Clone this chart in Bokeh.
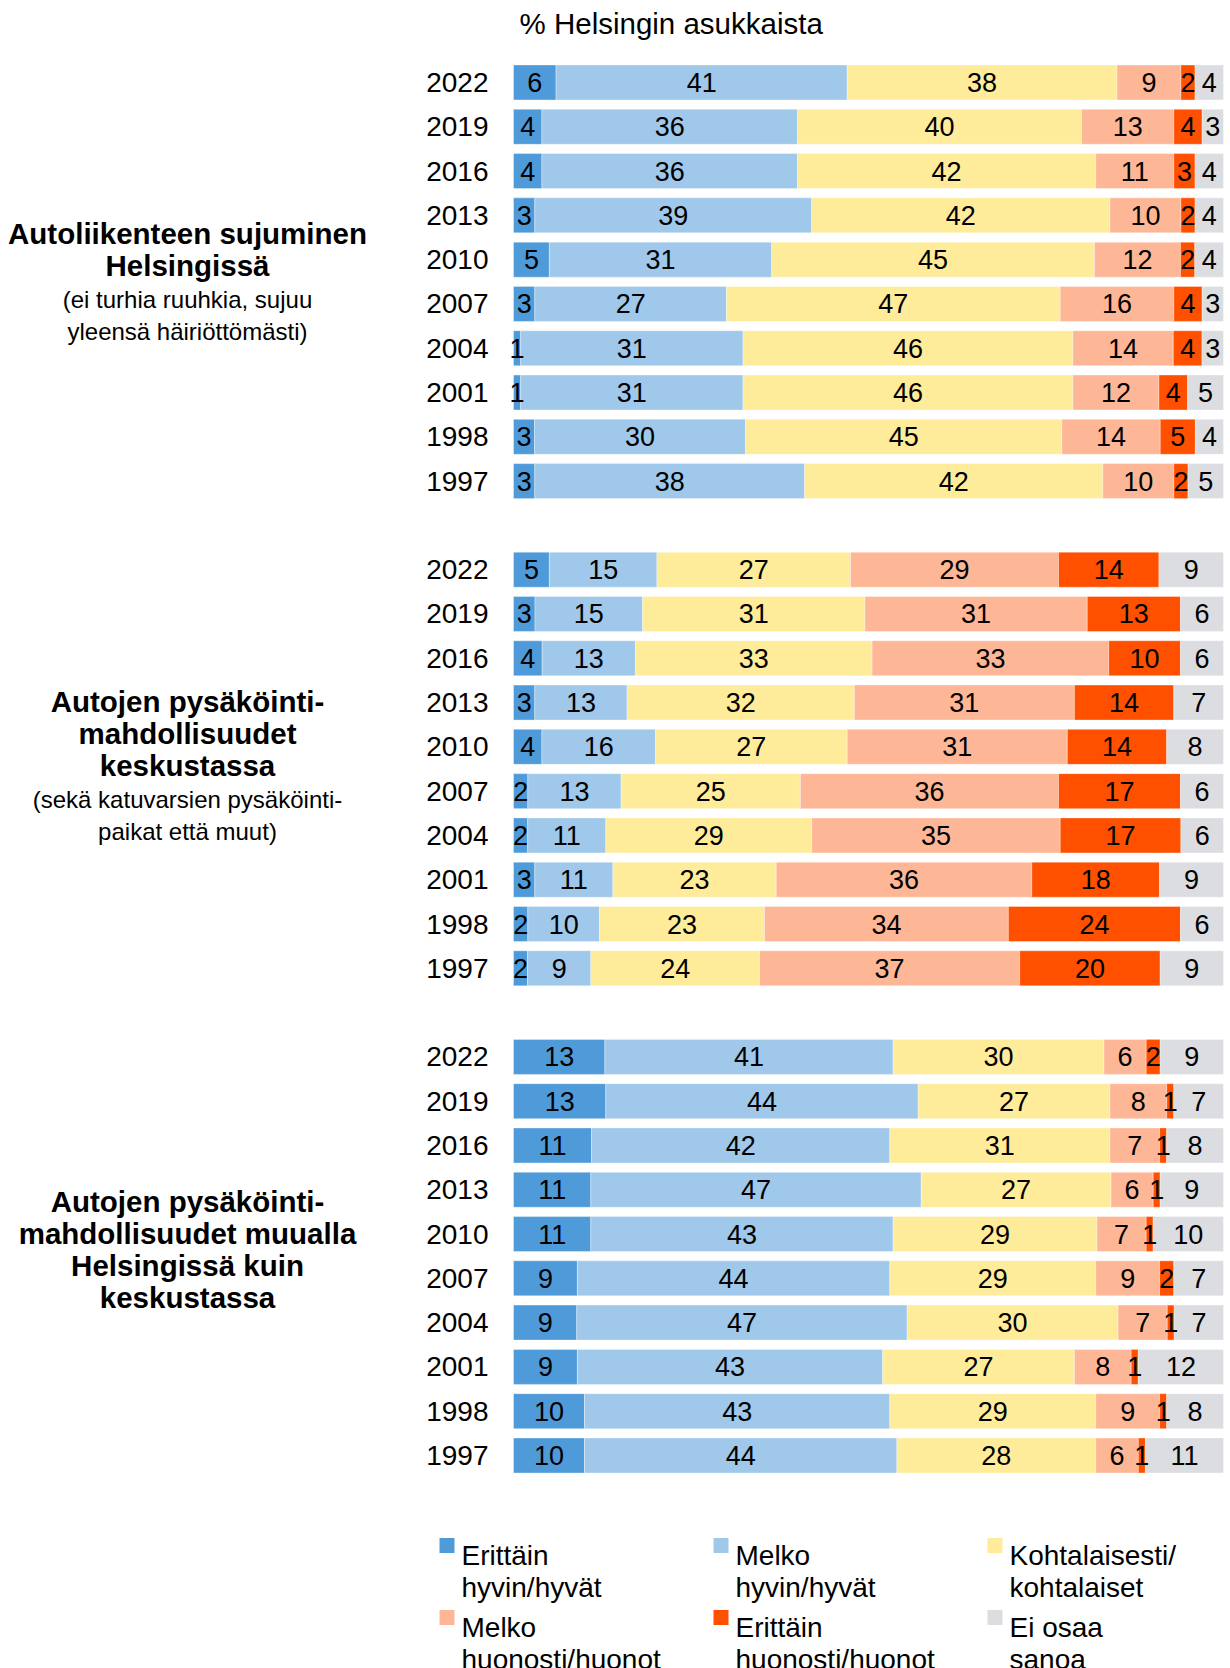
import numpy as np
from bokeh.plotting import figure
from bokeh.models import Range1d, Label, ColumnDataSource
from bokeh.core.properties import value
from bokeh.embed import file_html
from bokeh.resources import INLINE

# ---------------- data ----------------
years = ["2022", "2019", "2016", "2013", "2010", "2007", "2004", "2001", "1998", "1997"]

categories = ["Erittäin hyvin/hyvät", "Melko hyvin/hyvät", "Kohtalaisesti/kohtalaiset",
              "Melko huonosti/huonot", "Erittäin huonosti/huonot", "Ei osaa sanoa"]
legend_lines = [["Erittäin", "hyvin/hyvät"], ["Melko", "hyvin/hyvät"],
                ["Kohtalaisesti/", "kohtalaiset"], ["Melko", "huonosti/huonot"],
                ["Erittäin", "huonosti/huonot"], ["Ei osaa", "sanoa"]]
colors = ["#4F9BDA", "#9FC8EA", "#FEEC9A", "#FEB796", "#FF5000", "#DCDDE1"]

# Group 1: Autoliikenteen sujuminen Helsingissä
g1_erittain_hyvin = [6, 4, 4, 3, 5, 3, 1, 1, 3, 3]
g1_melko_hyvin = [41, 36, 36, 39, 31, 27, 31, 31, 30, 38]
g1_kohtalainen = [38, 40, 42, 42, 45, 47, 46, 46, 45, 42]
g1_melko_huono = [9, 13, 11, 10, 12, 16, 14, 12, 14, 10]
g1_erittain_huono = [2, 4, 3, 2, 2, 4, 4, 4, 5, 2]
g1_eos = [4, 3, 4, 4, 4, 3, 3, 5, 4, 5]

# Group 2: Autojen pysäköintimahdollisuudet keskustassa
g2_erittain_hyvin = [5, 3, 4, 3, 4, 2, 2, 3, 2, 2]
g2_melko_hyvin = [15, 15, 13, 13, 16, 13, 11, 11, 10, 9]
g2_kohtalainen = [27, 31, 33, 32, 27, 25, 29, 23, 23, 24]
g2_melko_huono = [29, 31, 33, 31, 31, 36, 35, 36, 34, 37]
g2_erittain_huono = [14, 13, 10, 14, 14, 17, 17, 18, 24, 20]
g2_eos = [9, 6, 6, 7, 8, 6, 6, 9, 6, 9]

# Group 3: Autojen pysäköintimahdollisuudet muualla Helsingissä kuin keskustassa
g3_erittain_hyvin = [13, 13, 11, 11, 11, 9, 9, 9, 10, 10]
g3_melko_hyvin = [41, 44, 42, 47, 43, 44, 47, 43, 43, 44]
g3_kohtalainen = [30, 27, 31, 27, 29, 29, 30, 27, 29, 28]
g3_melko_huono = [6, 8, 7, 6, 7, 9, 7, 8, 9, 6]
g3_erittain_huono = [2, 1, 1, 1, 1, 2, 1, 1, 1, 1]
g3_eos = [9, 7, 8, 9, 10, 7, 7, 12, 8, 11]

groups = [
    [g1_erittain_hyvin, g1_melko_hyvin, g1_kohtalainen, g1_melko_huono, g1_erittain_huono, g1_eos],
    [g2_erittain_hyvin, g2_melko_hyvin, g2_kohtalainen, g2_melko_huono, g2_erittain_huono, g2_eos],
    [g3_erittain_hyvin, g3_melko_hyvin, g3_kohtalainen, g3_melko_huono, g3_erittain_huono, g3_eos],
]
group_titles = [
    [("Autoliikenteen sujuminen", "bold"), ("Helsingissä", "bold"),
     ("(ei turhia ruuhkia, sujuu", "normal"), ("yleensä häiriöttömästi)", "normal")],
    [("Autojen pysäköinti-", "bold"), ("mahdollisuudet", "bold"), ("keskustassa", "bold"),
     ("(sekä katuvarsien pysäköinti-", "normal"), ("paikat että muut)", "normal")],
    [("Autojen pysäköinti-", "bold"), ("mahdollisuudet muualla", "bold"),
     ("Helsingissä kuin", "bold"), ("keskustassa", "bold")],
]
title_text = "% Helsingin asukkaista"

# ---------------- layout ----------------
W, H = 1230, 1668
X0_PX, XPU = 513.0, 7.10          # x pixel of 0 %, pixels per %
Y0_PX, YPU = 82.0, 44.29          # y pixel (from top) of first row, pixels per row
FONT_NAME = "Liberation Sans"
FONT = value(FONT_NAME)

def px_x(px):
    return (px - X0_PX) / XPU

def px_y(py):
    return (py - Y0_PX) / YPU

p = figure(width=W, height=H, output_backend="svg", toolbar_location=None,
           x_range=Range1d(px_x(0), px_x(W)), y_range=Range1d(px_y(H), px_y(0)),
           x_axis_location=None, y_axis_location=None, min_border=0,
           outline_line_color=None, background_fill_color="white")
p.grid.visible = False

ROWS_PER_GROUP = 11
bar_h = 35.0 / YPU

seg = {k: [] for k in ["y", "left", "right", "color", "label", "mid"]}
yl = {"y": [], "txt": []}
for gi, grp in enumerate(groups):
    for ri, yr in enumerate(years):
        yy = gi * ROWS_PER_GROUP + ri
        vals = [grp[c][ri] for c in range(len(categories))]
        tot = float(sum(vals))
        cum = 0.0
        for c, v in enumerate(vals):
            l = cum / tot * 100
            r = (cum + v) / tot * 100
            seg["y"].append(yy)
            seg["left"].append(l)
            seg["right"].append(r)
            seg["color"].append(colors[c])
            seg["label"].append(str(v))
            seg["mid"].append((l + r) / 2)
            cum += v
        yl["y"].append(yy)
        yl["txt"].append(yr)

src = ColumnDataSource(seg)
p.hbar(y="y", left="left", right="right", height=bar_h, fill_color="color",
       line_color="white", line_alpha=0.35, line_width=1, source=src)
p.text(x="mid", y="y", text="label", source=src, text_align="center",
       text_baseline="middle", text_font=FONT, text_font_size="27px", text_color="black")

ysrc = ColumnDataSource(yl)
p.text(x=0, y="y", text="txt", source=ysrc, x_offset=-25, text_align="right",
       text_baseline="middle", text_font=FONT, text_font_size="28px", text_color="black")

# title
p.add_layout(Label(x=0, y=0, x_offset=6, y_offset=59, text=title_text, text_font=FONT_NAME,
                   text_font_size="29.5px", text_align="left", text_baseline="alphabetic",
                   text_color="black"))

# group titles
title_offsets = [[-48, -16, 18, 50], [-67, -35, -3, 31, 63], [-55, -23, 9, 41]]
for gi, lines in enumerate(group_titles):
    yc = gi * ROWS_PER_GROUP + 4.5
    for (txt, style), off in zip(lines, title_offsets[gi]):
        p.add_layout(Label(x=px_x(187), y=yc, y_offset=-off, text=txt, text_font=FONT_NAME,
                           text_font_size="29.5px" if style == "bold" else "24px",
                           text_font_style=style, text_align="center",
                           text_baseline="middle", text_color="black"))

# legend
leg_x = [439, 713, 987]
leg_row_y = [1555, 1627]   # baseline of first text line (pixels from top)
lx, ly, lc = [], [], []
for i, (lines, col) in enumerate(zip(legend_lines, colors)):
    cx = leg_x[i % 3]
    by = leg_row_y[i // 3]
    lx.append(px_x(cx + 7.5))
    ly.append(px_y(by - 10))
    lc.append(col)
    for k, t in enumerate(lines):
        p.add_layout(Label(x=px_x(cx + 22), y=px_y(by + 32 * k), text=t, text_font=FONT_NAME,
                           text_font_size="28px", text_align="left",
                           text_baseline="alphabetic", text_color="black"))
p.rect(x=lx, y=ly, width=15, height=15, width_units="screen", height_units="screen",
       fill_color=lc, line_color=None)

open("out.html", "w").write(file_html(p, INLINE))
